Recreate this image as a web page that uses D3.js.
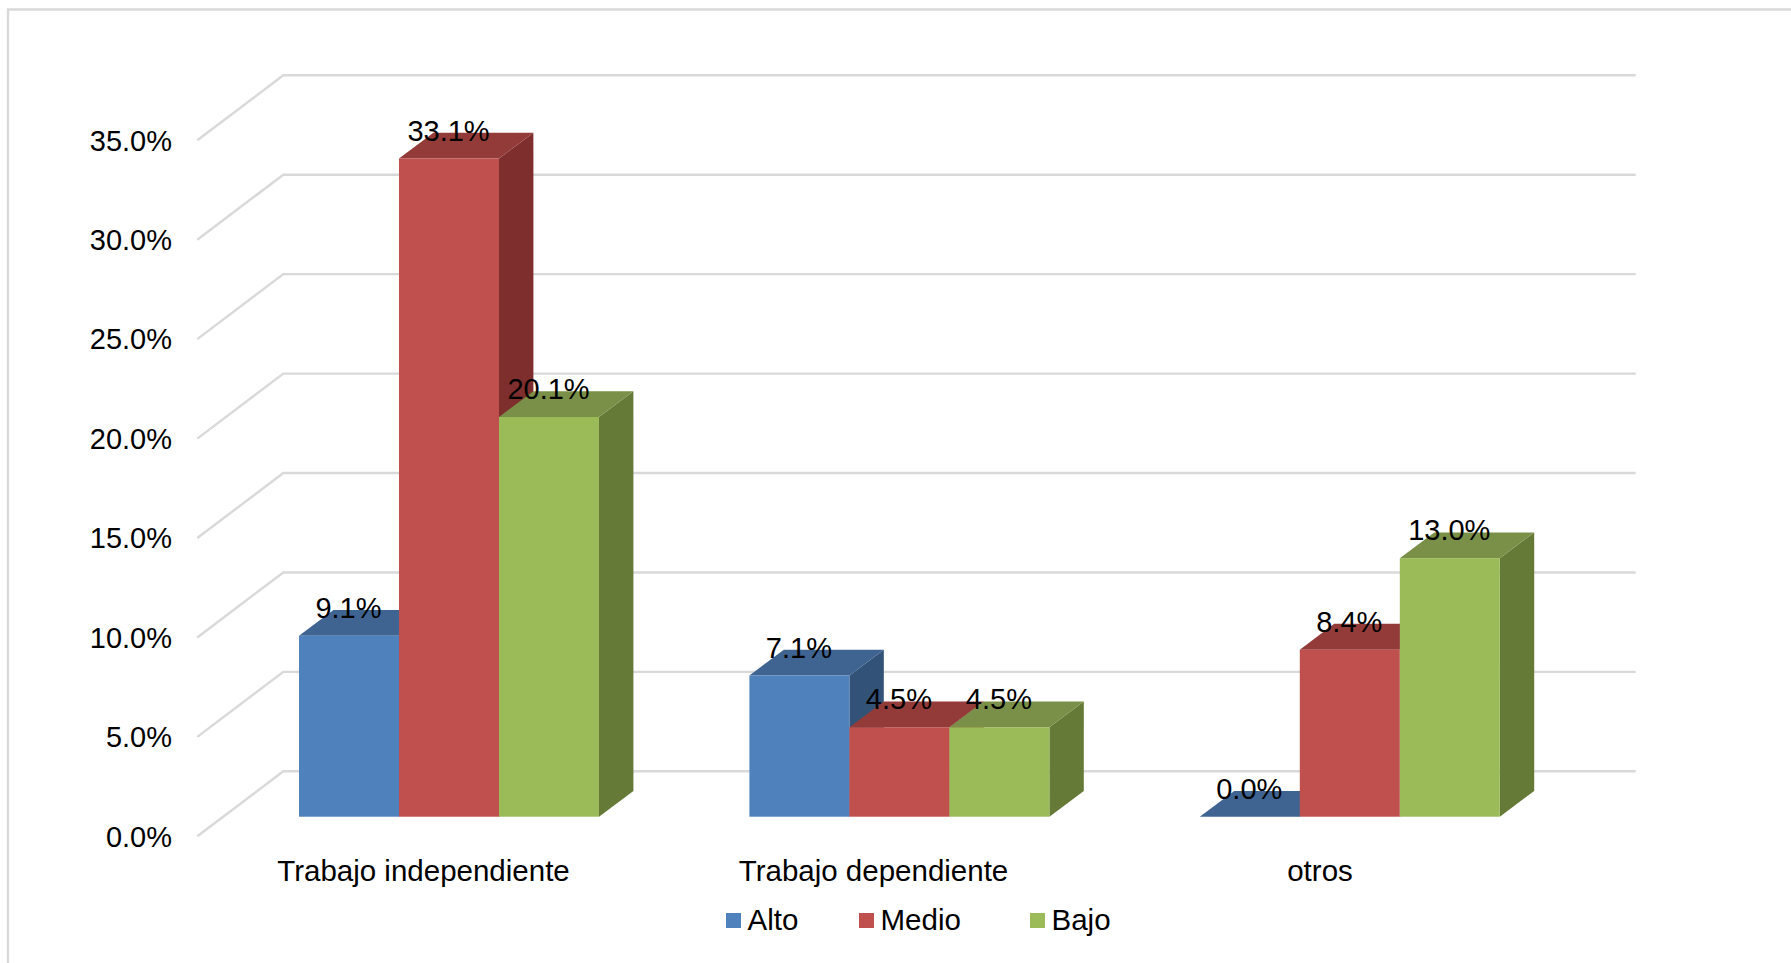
<!DOCTYPE html>
<html>
<head>
<meta charset="utf-8">
<script src="https://cdn.jsdelivr.net/npm/d3@7"></script>
<style>
html,body{margin:0;padding:0;background:#fff;overflow:hidden}
svg{display:block}
text{font-family:"Liberation Sans",Arial,sans-serif;fill:#000}
</style>
</head>
<body>
<svg id="chart" width="1791" height="963"></svg>
<script>
const categories = ["Trabajo independiente", "Trabajo dependiente", "otros"];
const seriesNames = ["Alto", "Medio", "Bajo"];
const alto = [9.1, 7.1, 0.0];
const medio = [33.1, 4.5, 8.4];
const bajo = [20.1, 4.5, 13.0];
const tickValues = [0, 5, 10, 15, 20, 25, 30, 35];
const seriesValues = [alto, medio, bajo];
const frontColors = ["#4F81BD", "#C0504D", "#9BBB59"];
const topColors = ["#3F6491", "#933B39", "#7A9048"];
const sideColors = ["#325278", "#7E2F2D", "#657A36"];

const svg = d3.select("#chart");
const FS = 29, FS2 = 29.5;
const GRID = "#d9d9d9";

// Perspective offsets of the 3D box
const wallDx = 86, wallDy = -65;      // front edge -> back wall
const barDx = 34.4, barDy = -25.8;    // depth of a bar
const floorDy = -19.6;                // bars stand inset from the front edge

const y = d3.scaleLinear().domain([0, 35]).range([836.3, 140.3]);
const x0 = d3.scaleBand().domain(categories).range([223.8, 1575]);
const barW = 100;
const x1 = d3.scaleBand().domain(seriesNames)
  .range([(x0.bandwidth() - 3 * barW) / 2, (x0.bandwidth() + 3 * barW) / 2]);

// Outer frame (only top and left are visible)
svg.append("path").attr("d", "M8,963V9.5H1791").attr("fill", "none")
  .attr("stroke", GRID).attr("stroke-width", 2.4);

// Gridlines: back wall + left wall
const grid = svg.append("g").attr("fill", "none").attr("stroke", GRID).attr("stroke-width", 2.4);
grid.selectAll("path").data(tickValues).join("path")
  .attr("d", v => `M197.3,${y(v)}L${197.3 + wallDx},${y(v) + wallDy}H1635.7`);

// Bars
const groups = svg.append("g").selectAll("g").data(categories).join("g")
  .attr("transform", c => `translate(${x0(c)},0)`);

seriesNames.forEach((name, s) => {
  const bars = groups.append("g").datum((c, i) => seriesValues[s][i]);
  const left = x1(name), right = left + barW;
  const base = y(0) + floorDy;
  const yt = v => y(v) + floorDy;
  bars.filter(v => v > 0).append("path").attr("fill", sideColors[s])
    .attr("d", v => `M${right},${yt(v)}l${barDx},${barDy}V${base + barDy}L${right},${base}Z`);
  bars.append("path").attr("fill", topColors[s])
    .attr("d", v => `M${left},${yt(v)}l${barDx},${barDy}h${barW}L${right},${yt(v)}Z`);
  bars.filter(v => v > 0).append("rect").attr("fill", frontColors[s])
    .attr("x", left).attr("width", barW)
    .attr("y", v => yt(v)).attr("height", v => base - yt(v));
});

// Data labels, on top of all bars
const labels = svg.append("g").attr("font-size", FS).attr("text-anchor", "middle");
seriesNames.forEach((name, s) => {
  labels.selectAll(null).data(categories).join("text")
    .attr("x", c => x0(c) + x1(name) + barW / 2 - 0.5)
    .attr("y", (c, i) => y(seriesValues[s][i]) + floorDy - 17.9)
    .text((c, i) => seriesValues[s][i].toFixed(1) + "%");
});

// Value axis
const yAxis = d3.axisLeft(y).tickValues(tickValues).tickSize(0).tickPadding(0)
  .tickFormat(v => v.toFixed(1) + "%");
const ya = svg.append("g").attr("transform", "translate(172,0)").call(yAxis);
ya.select(".domain").remove();
ya.selectAll("text").attr("font-size", FS).attr("font-family", null)
  .attr("dy", null).attr("dominant-baseline", null)
  .attr("y", 9.8).attr("x", 0);

// Category axis
const xLabel = d3.scaleOrdinal().domain(categories).range([423, 873, 1319.5]);
const xAxis = d3.axisBottom(xLabel).tickSize(0).tickPadding(0);
const xa = svg.append("g").attr("transform", "translate(0,881)").call(xAxis);
xa.select(".domain").remove();
xa.selectAll("text").attr("font-size", FS2).attr("font-family", null)
  .attr("dy", null).attr("y", 0);

// Legend
const legendKeyX = d3.scaleOrdinal().domain(seriesNames).range([726, 859, 1030]);
const lg = svg.append("g").selectAll("g").data(seriesNames).join("g")
  .attr("transform", d => `translate(${legendKeyX(d)},913)`);
lg.append("rect").attr("width", 15).attr("height", 15).attr("fill", (d, i) => frontColors[i]);
lg.append("text").attr("x", 21.5).attr("y", 16.8).attr("font-size", FS2).text(d => d);
</script>
</body>
</html>
